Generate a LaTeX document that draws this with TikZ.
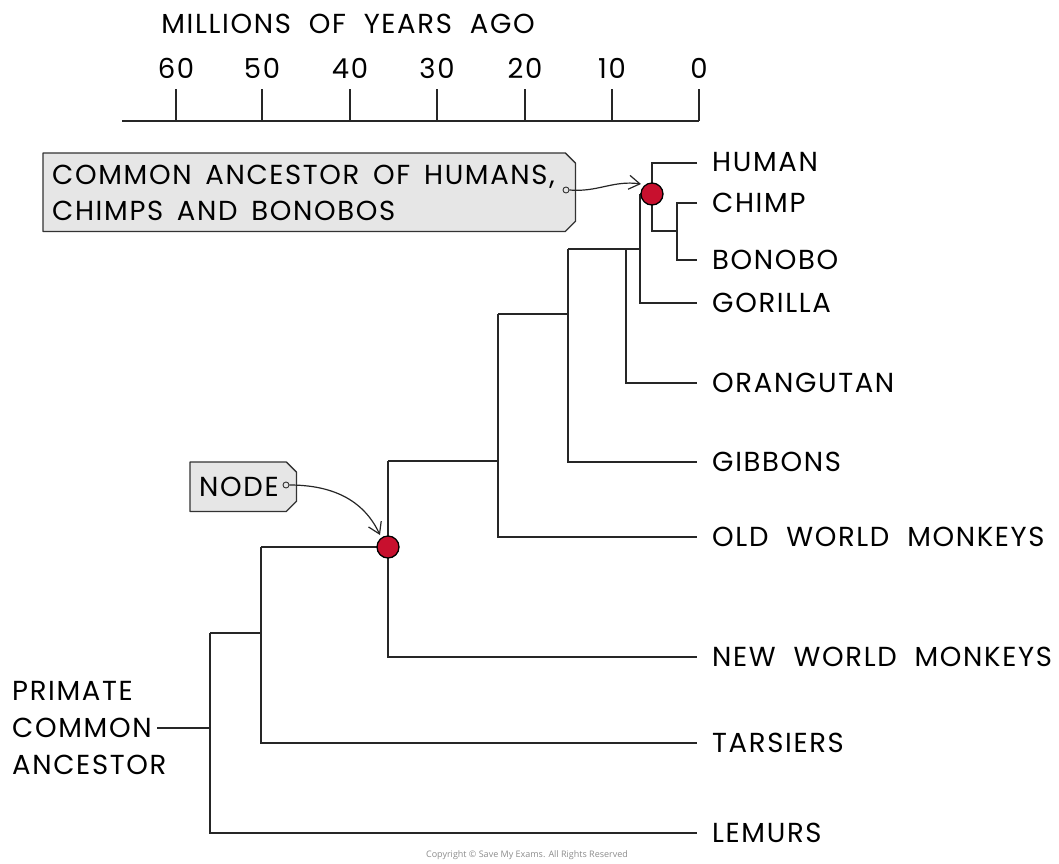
\documentclass[tikz,border=0pt]{standalone}
\usepackage{fontspec}
\setmainfont[LetterSpace=6]{Poppins}
\newfontfamily\cfont{Open Sans}
\usetikzlibrary{arrows.meta}
\definecolor{dotred}{HTML}{C8102E}
\definecolor{boxgrey}{HTML}{E6E6E6}
\newcommand{\labfont}{\fontsize{27.5}{37}\selectfont\spaceskip=0.65em\relax}
\newcommand{\calfont}{\fontsize{27.5}{36}\selectfont\spaceskip=0.5em\relax}
\begin{document}
\begin{tikzpicture}[x=1pt,y=-1pt,
  br/.style={line width=1.8pt, draw=black!85},
  lab/.style={anchor=west, inner sep=0pt, font=\labfont},
  ticklab/.style={inner sep=0pt, font=\labfont},
  boxarea/.style={anchor=north west, inner sep=0pt},
  boxline/.style={draw=black!80, line width=1.3pt, fill=boxgrey, line join=round},
  reddot/.style={circle, fill=dotred, draw=black, line width=1.3pt, minimum size=22pt, inner sep=0pt},
  pin/.style={circle, draw=black!80, line width=0.9pt, fill=boxgrey, minimum size=6pt, inner sep=0pt},
  arr/.style={line width=1.2pt, draw=black!85, -{Straight Barb[length=11pt,width=14pt,line width=1.2pt]}}
]
\useasboundingbox (0,0) rectangle (1059,863);

% ---------- time axis ----------
\node[ticklab] (title) at (348,24) {MILLIONS OF YEARS AGO};
\coordinate (axL) at (122,121);
\coordinate (axR) at (699,121);
\draw[br] (axL) -- (axR);
\foreach \v/\x in {60/176,50/262,40/350,30/437,20/525,10/612,0/699}{
  \coordinate (t\v) at (\x,121);
  \coordinate (tt\v) at (\x,89);
  \draw[br] (t\v) -- (tt\v);
  \node[ticklab] (n\v) at (\x,68) {\v};
}

% ---------- tree coordinates ----------
\coordinate (stem) at (157,728);
\coordinate (r) at (210,728);
\coordinate (rT) at (210,633);
\coordinate (rB) at (210,833);
\coordinate (a) at (261,633);
\coordinate (aT) at (261,547);
\coordinate (aB) at (261,743);
\coordinate (bT) at (388,461);
\coordinate (bB) at (388,657);
\coordinate (c) at (498,461);
\coordinate (cT) at (498,314);
\coordinate (cB) at (498,537);
\coordinate (d) at (568,314);
\coordinate (dT) at (568,249);
\coordinate (dB) at (568,462);
\coordinate (e) at (626,249);
\coordinate (eB) at (626,383);
\coordinate (f) at (640,249);
\coordinate (fT) at (640,194);
\coordinate (fB) at (640,303);
\coordinate (hT) at (652,163);
\coordinate (hB) at (652,231);
\coordinate (g) at (677,231);
\coordinate (gT) at (677,203);
\coordinate (gB) at (677,260);

% leaf ends
\coordinate (eLem) at (697,833);
\coordinate (eTar) at (697,743);
\coordinate (eNWM) at (697,657);
\coordinate (eOWM) at (697,537);
\coordinate (eGib) at (697,462);
\coordinate (eOra) at (697,383);
\coordinate (eGor) at (697,303);
\coordinate (eBon) at (697,260);
\coordinate (eChi) at (697,203);
\coordinate (eHum) at (697,163);

% ---------- branches ----------
\draw[br] (stem) -- (r);
\draw[br] (rT) -- (rB) -- (eLem);
\draw[br] (rT) -- (a);
\draw[br] (aT) -- (aB) -- (eTar);
\draw[br] (aT) -- (388,547);
\draw[br] (bT) -- (bB) -- (eNWM);
\draw[br] (bT) -- (c);
\draw[br] (cT) -- (cB) -- (eOWM);
\draw[br] (cT) -- (d);
\draw[br] (dT) -- (dB) -- (eGib);
\draw[br] (dT) -- (e);
\draw[br] (e) -- (eB) -- (eOra);
\draw[br] (e) -- (f);
\draw[br] (fT) -- (fB) -- (eGor);
\draw[br] (fT) -- (652,194);
\draw[br] (eHum) -- (hT) -- (hB) -- (g);
\draw[br] (eChi) -- (gT) -- (gB) -- (eBon);

% red nodes
\node[reddot] (dotN) at (388,547) {};
\node[reddot] (dotH) at (652,194) {};

% ---------- leaf labels ----------
\node[lab] (lHum) at (712,162) {HUMAN};
\node[lab] (lChi) at (712,203) {CHIMP};
\node[lab] (lBon) at (712,260) {BONOBO};
\node[lab] (lGor) at (712,303) {GORILLA};
\node[lab] (lOra) at (712,383) {ORANGUTAN};
\node[lab] (lGib) at (712,462) {GIBBONS};
\node[lab] (lOWM) at (712,537) {OLD WORLD MONKEYS};
\node[lab] (lNWM) at (712,657) {NEW WORLD MONKEYS};
\node[lab] (lTar) at (712,743) {TARSIERS};
\node[lab] (lLem) at (712,833) {LEMURS};
\node[lab, align=left, anchor=west] (lRoot) at (12,728) {PRIMATE\\COMMON\\ANCESTOR};

% ---------- callouts ----------
\node[boxarea, minimum width=532pt, minimum height=78pt] (cbox) at (43,153) {};
\draw[boxline] (cbox.north west) -- ([xshift=-10pt]cbox.north east)
  -- ([yshift=-10pt]cbox.north east) -- ([yshift=10pt]cbox.south east)
  -- ([xshift=-10pt]cbox.south east) -- (cbox.south west) -- cycle;
\node[lab, align=left, font=\calfont] (ctext) at (52,193)
  {COMMON ANCESTOR OF HUMANS,\\CHIMPS AND BONOBOS};
\node[pin] (pin1) at (566,190) {};
\draw[arr] (pin1.east) to[out=-5,in=172] (641,184);

\node[boxarea, minimum width=106pt, minimum height=49pt] (nbox) at (190,462) {};
\draw[boxline] (nbox.north west) -- ([xshift=-10pt]nbox.north east)
  -- ([yshift=-10pt]nbox.north east) -- ([yshift=10pt]nbox.south east)
  -- ([xshift=-10pt]nbox.south east) -- (nbox.south west) -- cycle;
\node[lab] (ntext) at (199,487) {NODE};
\node[pin] (pin2) at (286,485) {};
\draw[arr] (pin2.east) to[out=0,in=115] (380,535);

% ---------- copyright ----------
\node[font=\cfont\fontsize{9}{10}\selectfont, text=black!45] (copy) at (527,855)
  {Copyright \textcopyright{} Save My Exams. All Rights Reserved};
\end{tikzpicture}
\end{document}
